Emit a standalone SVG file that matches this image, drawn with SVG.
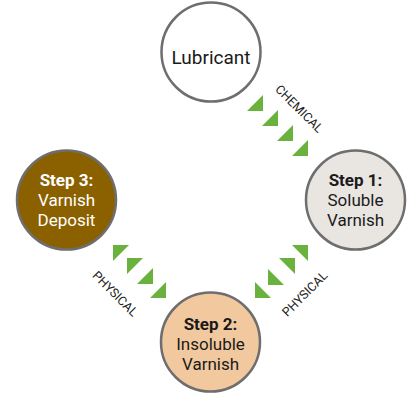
<svg xmlns="http://www.w3.org/2000/svg" width="407" height="394" viewBox="0 0 407 394">
<style>
.node{stroke:#6e6e6e;stroke-width:2.5}
.lbl{font-family:Roboto,"Open Sans",sans-serif;font-size:17px;fill:#1a1a1a;text-anchor:middle}
.b{font-weight:bold}
.w{fill:#ffffff}
.tri{fill:#6ab23e}
.cl{font-family:Roboto,"Open Sans",sans-serif;font-size:12.5px;fill:#222;text-anchor:middle}
</style>
<rect width="407" height="394" fill="#ffffff"/>
<g id="connectors">
  <g id="chemical">
    <path class="tri" d="M247 111L263 95L263 111Z"/>
    <path class="tri" d="M262 126L278 110L278 126Z"/>
    <path class="tri" d="M277 141L293 125L293 141Z"/>
    <path class="tri" d="M292 156L308 140L308 156Z"/>
    <text class="cl" transform="translate(299,109) rotate(45)" y="4">CHEMICAL</text>
  </g>
  <g id="physical-right">
    <path class="tri" d="M292 245L308 245L308 261Z"/>
    <path class="tri" d="M279 258L295 258L295 274Z"/>
    <path class="tri" d="M268 269L268 285L284 285Z"/>
    <path class="tri" d="M255 282L255 298L271 298Z"/>
    <text class="cl" transform="translate(305,294) rotate(-45)" y="4">PHYSICAL</text>
  </g>
  <g id="physical-left">
    <path class="tri" d="M113 245L129 245L113 261Z"/>
    <path class="tri" d="M127 258L143 258L127 274Z"/>
    <path class="tri" d="M137 284L153 268L153 284Z"/>
    <path class="tri" d="M150 298L166 282L166 298Z"/>
    <text class="cl" transform="translate(115,294) rotate(45)" y="4">PHYSICAL</text>
  </g>
</g>
<g id="lubricant">
  <circle class="node" cx="211" cy="52" r="49.5" fill="#ffffff"/>
  <text class="lbl" x="211" y="64" style="font-size:19px">Lubricant</text>
</g>
<g id="step1">
  <circle class="node" cx="355.5" cy="200" r="49.5" fill="#e9e5e1"/>
  <text class="lbl b" x="355.5" y="186">Step 1:</text>
  <text class="lbl" x="355.5" y="206">Soluble</text>
  <text class="lbl" x="355.5" y="226">Varnish</text>
</g>
<g id="step2">
  <circle class="node" cx="210.5" cy="342" r="49.5" fill="#f2c99e"/>
  <text class="lbl b" x="210.5" y="330">Step 2:</text>
  <text class="lbl" x="210.5" y="350">Insoluble</text>
  <text class="lbl" x="210.5" y="370">Varnish</text>
</g>
<g id="step3">
  <circle class="node" cx="66.5" cy="200" r="49.5" fill="#8b6100"/>
  <text class="lbl b w" x="66.5" y="186">Step 3:</text>
  <text class="lbl w" x="66.5" y="206">Varnish</text>
  <text class="lbl w" x="66.5" y="226">Deposit</text>
</g>
</svg>
